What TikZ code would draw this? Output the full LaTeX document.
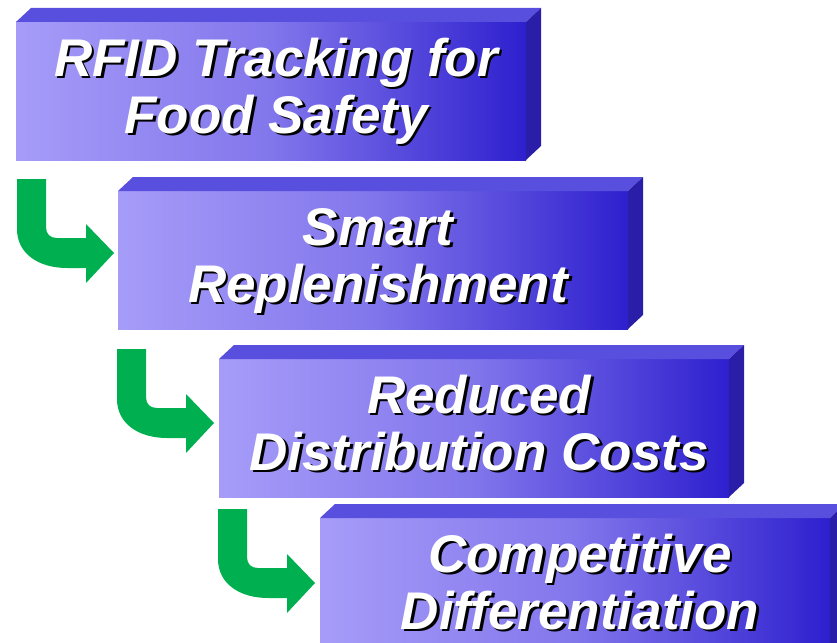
\documentclass[tikz,border=0pt]{standalone}
\usepackage{fontspec}
\setmainfont{Liberation Sans}
\definecolor{boxL}{RGB}{166,156,248}
\definecolor{boxM}{RGB}{130,118,236}
\definecolor{boxR}{RGB}{46,32,206}
\definecolor{boxTop}{RGB}{89,79,222}
\definecolor{boxSide}{RGB}{42,30,168}
\definecolor{arrowGreen}{RGB}{0,176,80}
\newcommand\shtext[4]{%
  \node[lbl,text=black,xshift=2.7pt,yshift=-2.7pt] (#1s) at (#2,#3) {#4};
  \node[lbl,text=white] (#1) at (#2,#3) {#4};}
\begin{document}
\begin{tikzpicture}[x=1pt,y=-1pt,
  lbl/.style={font=\fontsize{53}{57}\selectfont\bfseries\itshape, inner sep=0pt, anchor=base},
  frontface/.style={left color=boxL, right color=boxR, middle color=boxM},
  topface/.style={fill=boxTop},
  sideface/.style={fill=boxSide},
  greenarrow/.style={fill=arrowGreen}]
\useasboundingbox (0,0) rectangle (837,642);
\clip (0,0) rectangle (837,642);
% boxes
\foreach \bx/\by in {16/22, 118/191, 219/359, 320/518}{
  \shade[frontface] (\bx,\by) rectangle (\bx+510,\by+138);
  \fill[topface] (\bx,\by) -- (\bx+15,\by-14) -- (\bx+525,\by-14) -- (\bx+510,\by) -- cycle;
  \fill[sideface] (\bx+510,\by) -- (\bx+525,\by-14) -- (\bx+525,\by+124) -- (\bx+510,\by+138) -- cycle;
}
% arrows
\foreach \ax/\ay in {17/179, 117/349, 218/509}{
  \fill[greenarrow] (\ax,\ay) -- (\ax+29,\ay) -- (\ax+29,\ay+48)
    .. controls (\ax+29,\ay+55) and (\ax+33,\ay+59) .. (\ax+40,\ay+59)
    -- (\ax+69,\ay+59) -- (\ax+69,\ay+45) -- (\ax+97,\ay+74) -- (\ax+69,\ay+104)
    -- (\ax+69,\ay+89) -- (\ax+50,\ay+89)
    .. controls (\ax+22,\ay+89) and (\ax,\ay+75) .. (\ax,\ay+50) -- cycle;
}
% texts
\shtext{t1a}{276}{76}{RFID Tracking for}
\shtext{t1b}{276}{133}{Food Safety}
\shtext{t2a}{378}{245}{Smart}
\shtext{t2b}{378}{302}{Replenishment}
\shtext{t3a}{479}{413}{Reduced}
\shtext{t3b}{479}{470}{Distribution Costs}
\shtext{t4a}{580}{572}{Competitive}
\shtext{t4b}{580}{629}{Differentiation}
\end{tikzpicture}
\end{document}
